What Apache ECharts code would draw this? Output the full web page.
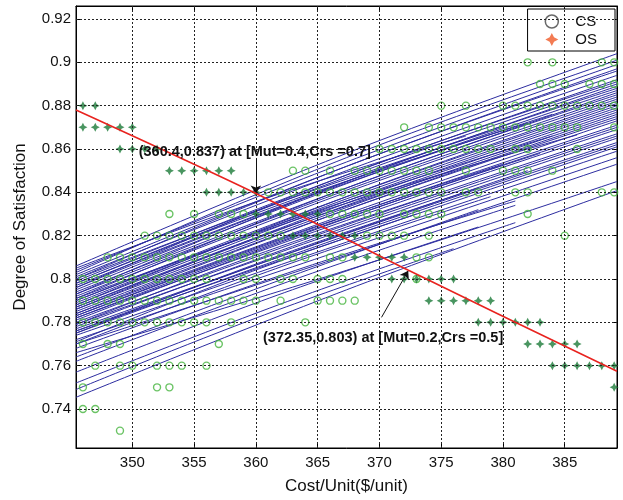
<!DOCTYPE html>
<html><head><meta charset="utf-8">
<script src="https://cdn.jsdelivr.net/npm/echarts@6/dist/echarts.min.js"></script>
<style>html,body{margin:0;padding:0;background:#fff}#c{width:623px;height:500px}</style>
</head><body><div id="c"></div>
<script>
// ---- axis ranges and ticks ----
const xRange = [345.44, 389.23];
const yRange = [0.722, 0.926];
const xTicks = [350, 355, 360, 365, 370, 375, 380, 385];
const yTicks = [0.74, 0.76, 0.78, 0.80, 0.82, 0.84, 0.86, 0.88, 0.90, 0.92];

// ---- CS points: [y, [x values]] ----
const csRows = [
  [0.90, [382, 384, 388, 389]],
  [0.89, [383, 384, 385, 387, 388, 389]],
  [0.88, [375, 377, 380, 381, 382, 383, 384, 385, 386, 387, 388, 389]],
  [0.87, [372, 374, 375, 376, 377, 378, 379, 380, 381, 382, 383, 384, 385, 386, 389]],
  [0.86, [370, 371, 372, 373, 374, 375, 376, 377, 378, 379, 381, 382, 386]],
  [0.85, [363, 364, 366, 368, 369, 370, 371, 372, 373, 374, 377, 380, 381, 382, 384]],
  [0.84, [361, 362, 363, 364, 365, 366, 367, 368, 369, 370, 371, 372, 373, 374, 375, 377, 378, 381, 382, 388, 389]],
  [0.83, [353, 355, 357, 358, 359, 366, 367, 368, 369, 370, 372, 373, 374, 375, 382]],
  [0.82, [351, 352, 353, 354, 355, 356, 357, 358, 359, 360, 361, 362, 369, 370, 371, 372, 374, 385]],
  [0.81, [348, 349, 350, 351, 352, 353, 354, 355, 356, 357, 358, 359, 360, 361, 362, 363, 364, 366, 367, 373, 374]],
  [0.80, [346, 347, 348, 349, 350, 351, 352, 353, 354, 355, 356, 359, 360, 362, 363, 365, 366, 367, 373]],
  [0.79, [346, 347, 348, 349, 350, 351, 352, 353, 354, 355, 356, 357, 358, 359, 360, 362, 365, 366, 367, 368]],
  [0.78, [346, 347, 348, 349, 350, 351, 352, 353, 354, 355, 356, 358, 364]],
  [0.77, [346, 348, 349, 357]],
  [0.76, [347, 349, 350, 352, 353, 354, 356]],
  [0.75, [346, 352, 353]],
  [0.74, [346, 347]],
  [0.73, [349]]
];

// ---- OS points: [y, [x values]] ----
const osRows = [
  [0.88, [346, 347]],
  [0.87, [346, 347, 348, 349, 350]],
  [0.86, [349, 350, 351, 352]],
  [0.85, [353, 354, 355, 356, 357, 358]],
  [0.84, [356, 357, 358, 359, 360]],
  [0.83, [360, 361, 362, 363, 364, 365]],
  [0.82, [363, 364, 365, 366, 367, 368]],
  [0.81, [368, 369, 370, 371, 372]],
  [0.80, [371, 372, 373, 374, 375, 376]],
  [0.79, [374, 375, 376, 377, 378, 379]],
  [0.78, [378, 379, 380, 381, 382, 383]],
  [0.77, [382, 383, 384, 385, 386]],
  [0.76, [384, 385, 386, 387, 388, 389]],
  [0.75, [389]]
];

// ---- OS trend (red) ----
const redLine = [[345.44, 0.878], [360.0, 0.8395], [372.35, 0.804], [389.23, 0.7574]];

// ---- fitted CS curves: [y at left, y at middle, x end, y end] ----
const curves = [
  [0.806, 0.858, 389.23, 0.904],
  [0.804, 0.854, 389.23, 0.899],
  [0.803, 0.856, 389.23, 0.901],
  [0.802, 0.852, 389.23, 0.897],
  [0.801, 0.850, 389.23, 0.894],
  [0.800, 0.852, 389.23, 0.896],
  [0.799, 0.848, 389.23, 0.892],
  [0.798, 0.847, 389.23, 0.890],
  [0.797, 0.845, 389.23, 0.889],
  [0.796, 0.848, 389.23, 0.891],
  [0.795, 0.844, 389.23, 0.887],
  [0.794, 0.842, 389.23, 0.886],
  [0.793, 0.845, 389.23, 0.888],
  [0.793, 0.841, 389.23, 0.884],
  [0.792, 0.840, 389.23, 0.883],
  [0.791, 0.842, 389.23, 0.885],
  [0.790, 0.838, 389.23, 0.881],
  [0.789, 0.837, 389.23, 0.880],
  [0.788, 0.838, 389.23, 0.882],
  [0.788, 0.836, 389.23, 0.879],
  [0.787, 0.834, 389.23, 0.877],
  [0.786, 0.835, 389.23, 0.878],
  [0.786, 0.833, 389.23, 0.876],
  [0.785, 0.832, 389.23, 0.874],
  [0.784, 0.832, 389.23, 0.875],
  [0.784, 0.830, 389.23, 0.873],
  [0.783, 0.829, 389.23, 0.871],
  [0.782, 0.827, 389.23, 0.869],
  [0.781, 0.828, 389.23, 0.870],
  [0.780, 0.825, 389.23, 0.867],
  [0.779, 0.823, 389.23, 0.865],
  [0.778, 0.824, 389.23, 0.866],
  [0.777, 0.821, 389.23, 0.863],
  [0.776, 0.819, 389.23, 0.861],
  [0.775, 0.820, 389.23, 0.862],
  [0.774, 0.817, 389.23, 0.859],
  [0.772, 0.814, 389.23, 0.856],
  [0.770, 0.811, 389.23, 0.853],
  [0.766, 0.804, 389.23, 0.845],
  [0.7454, 0.795, 389.23, 0.8408],
  [0.805, 0.838, 377, 0.866],
  [0.800, 0.837, 380, 0.870],
  [0.798, 0.838, 382, 0.872],
  [0.796, 0.839, 384, 0.876],
  [0.791, 0.832, 386, 0.8665],
  [0.790, 0.831, 384, 0.866],
  [0.787, 0.8205, 376, 0.850],
  [0.783, 0.820, 380, 0.853],
  [0.782, 0.822, 383, 0.858],
  [0.779, 0.8115, 375, 0.840],
  [0.776, 0.814, 382, 0.850],
  [0.775, 0.8105, 378, 0.842],
  [0.771, 0.8025, 373, 0.830],
  [0.770, 0.806, 379, 0.838],
  [0.768, 0.804, 381, 0.836],
  [0.764, 0.799, 378, 0.832],
  [0.762, 0.800, 381, 0.834],
  [0.757, 0.7925, 378, 0.824],
  [0.752, 0.791, 381, 0.826],
  [0.749, 0.7835, 376, 0.814]
];

// ---- annotations ----
const notes = [
  { text: '(360.4,0.837) at [Mut=0.4,Crs =0.7]', at: [359.91, 0.8584], from: [360.0, 0.8555], to: [360.0, 0.8395] },
  { text: '(372.35,0.803) at [Mut=0.2,Crs =0.5]', at: [370.30, 0.7730], from: [370.17, 0.7823], to: [372.33, 0.8038] }
];

const FONT = 'Arial, "Liberation Sans", Helvetica, sans-serif';
const starPath = 'path://M0,-10 L3.4,-3.4 L10,0 L3.4,3.4 L0,10 L-3.4,3.4 L-10,0 L-3.4,-3.4 Z';
const csColor = '#45b43d';
const osColor = '#1c7a38';
const blue = '#2c2ca0';

const rowsToPoints = rows => rows.flatMap(([y, xs]) => xs.map(x => [x, y]));

const series = [];
series.push({
  type: 'line', name: 'grid', data: [], silent: true, z: 1,
  markLine: {
    silent: true, symbol: ['none', 'none'], label: { show: false },
    lineStyle: { color: '#222', width: 1, type: [2, 2] },
    data: xTicks.map(v => ({ xAxis: v })).concat(yTicks.map(v => ({ yAxis: v })))
  }
});
curves.forEach((c, i) => {
  series.push({
    type: 'line', name: 'fit' + i, smooth: 0.4, symbol: 'none', z: 2, silent: true,
    lineStyle: { color: blue, width: 1 },
    data: [[xRange[0], c[0]], [(xRange[0] + c[2]) / 2, c[1]], [c[2], c[3]]]
  });
});
series.push({
  type: 'scatter', name: 'CS', z: 3, symbol: 'circle', symbolSize: 7,
  itemStyle: { color: 'rgba(0,0,0,0)', borderColor: csColor, borderWidth: 1.4 },
  data: rowsToPoints(csRows)
});
series.push({
  type: 'scatter', name: 'OS', z: 4, symbol: starPath, symbolSize: 9,
  itemStyle: { color: osColor },
  data: rowsToPoints(osRows)
});
series.push({
  type: 'line', name: 'trend', z: 5, symbol: 'none', smooth: 0.3,
  lineStyle: { color: '#e8231f', width: 1.6 },
  data: redLine
});
series.push({
  type: 'line', name: 'arrows', data: [], z: 6,
  markLine: {
    silent: true, symbol: ['none', 'arrow'], symbolSize: 8, label: { show: false },
    lineStyle: { color: '#111', width: 1, type: 'solid' },
    data: notes.map(n => [{ coord: n.from }, { coord: n.to }])
  }
});

const fmtY = v => String(Math.round(v * 100) / 100);

const option = {
  animation: false,
  backgroundColor: '#fff',
  textStyle: { fontFamily: FONT },
  grid: { left: 76, right: 6, top: 6, bottom: 52, show: true, borderColor: '#000', borderWidth: 1, backgroundColor: 'rgba(0,0,0,0)' },
  legend: {
    orient: 'vertical', right: 8, top: 9,
    backgroundColor: '#fff', borderColor: '#000', borderWidth: 1, borderRadius: 0,
    padding: [5, 18, 4, 17], itemWidth: 13, itemHeight: 13, itemGap: 3,
    textStyle: { fontSize: 15, color: '#111', fontFamily: FONT, padding: [0, 0, 0, 12] },
    data: [
      { name: 'CS', icon: 'circle', itemStyle: { color: 'rgba(0,0,0,0)', borderColor: '#444', borderWidth: 1.5 } },
      { name: 'OS', icon: starPath, itemStyle: { color: '#f05a28', borderWidth: 0 } }
    ]
  },
  xAxis: [{
    type: 'value', min: xRange[0], max: xRange[1],
    name: 'Cost/Unit($/unit)', nameLocation: 'middle', nameGap: 30,
    nameTextStyle: { fontSize: 17, color: '#111', fontFamily: FONT },
    axisLine: { show: true, lineStyle: { color: '#000' } },
    axisTick: { show: true, inside: true, length: 4, customValues: xTicks, lineStyle: { color: '#000' } },
    axisLabel: { show: true, customValues: xTicks, fontSize: 15, color: '#111', margin: 7, fontFamily: FONT },
    splitLine: { show: false }
  }, {
    type: 'value', position: 'top', min: xRange[0], max: xRange[1],
    axisLine: { show: true, lineStyle: { color: '#000' } },
    axisTick: { show: true, inside: true, length: 4, customValues: xTicks, lineStyle: { color: '#000' } },
    axisLabel: { show: false }, splitLine: { show: false }
  }],
  yAxis: [{
    type: 'value', min: yRange[0], max: yRange[1],
    name: 'Degree of Satisfaction', nameLocation: 'middle', nameGap: 47,
    nameTextStyle: { fontSize: 17, color: '#111', fontFamily: FONT },
    axisLine: { show: true, lineStyle: { color: '#000' } },
    axisTick: { show: true, inside: true, length: 4, customValues: yTicks, lineStyle: { color: '#000' } },
    axisLabel: { show: true, customValues: yTicks, formatter: fmtY, fontSize: 15, color: '#111', margin: 5, fontFamily: FONT },
    splitLine: { show: false }
  }, {
    type: 'value', position: 'right', min: yRange[0], max: yRange[1],
    axisLine: { show: true, lineStyle: { color: '#000' } },
    axisTick: { show: true, inside: true, length: 4, customValues: yTicks, lineStyle: { color: '#000' } },
    axisLabel: { show: false }, splitLine: { show: false }
  }],
  series: series
};

const chart = echarts.init(document.getElementById('c'), null, { renderer: 'canvas' });
chart.setOption(option);
const texts = notes.map(n => {
  const p = chart.convertToPixel({ gridIndex: 0 }, n.at);
  return {
    type: 'text', x: p[0], y: p[1], z: 100,
    style: { text: n.text, font: 'bold 14.5px ' + FONT, fill: '#111', align: 'center', verticalAlign: 'middle' }
  };
});
chart.setOption({ graphic: texts });
</script>
</body></html>
